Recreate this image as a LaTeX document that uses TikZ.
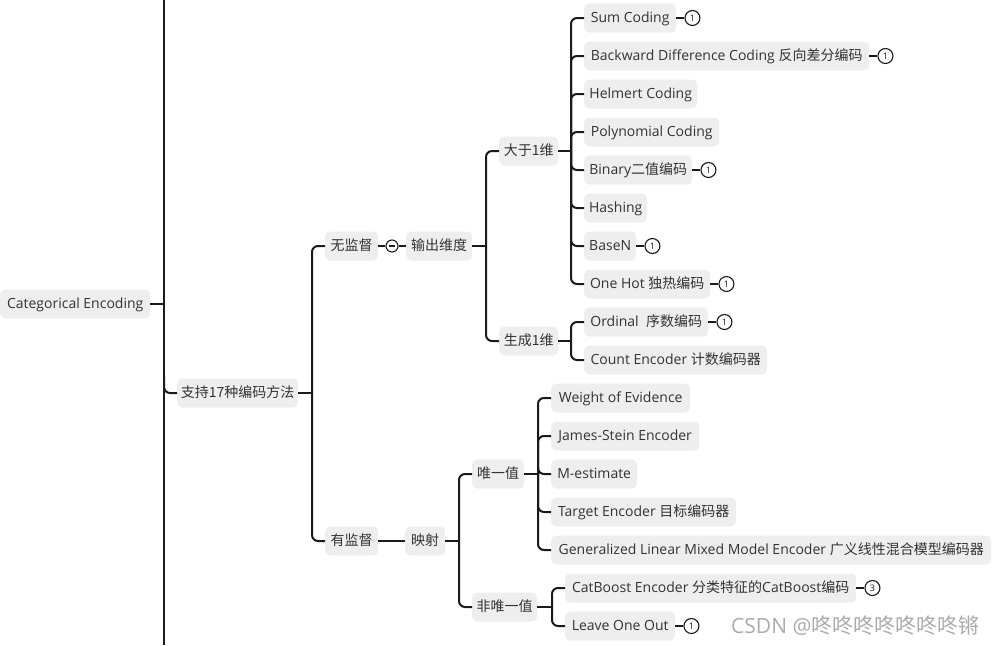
\documentclass[tikz,border=0pt]{standalone}
\usepackage{fontspec}
\setmainfont{Open Sans}
\newfontfamily\cjkfont{Noto Sans CJK SC}
\newcommand\zh[1]{{\cjkfont #1}}
\usetikzlibrary{calc}
\definecolor{boxgray}{HTML}{EEEEEE}
\definecolor{textc}{HTML}{333333}
\definecolor{linec}{HTML}{1A1A1A}
\definecolor{wmark}{HTML}{ABABAB}
\newcommand\nd[5]{\node[box, minimum width=#3-#2] (#1) at (#2,#4) {#5};}
\begin{document}
\begin{tikzpicture}[x=1pt,y=-1pt,
  box/.style={fill=boxgray, rounded corners=5pt, minimum height=29pt, inner xsep=0pt, inner ysep=0pt, anchor=west, text=textc, font=\fontsize{14}{16}\selectfont, text height=11.5pt, text depth=2pt},
  conn/.style={line width=2pt, draw=linec, rounded corners=6pt},
  badge/.style={circle, draw=linec, line width=1.1pt, minimum size=15pt, inner sep=0pt, fill=white, font=\fontsize{9}{9}\selectfont, text=linec},
  collapse/.style={circle, draw=linec, line width=1.1pt, minimum size=12pt, inner sep=0pt, fill=white},
]
\useasboundingbox (0,0) rectangle (998,645);

% main vertical line
\coordinate (vtop) at (164,0);
\coordinate (vbot) at (164,645);
\draw[line width=2pt, linec] (vtop) -- (vbot);

% nodes
\nd{root}{0}{150}{304}{Categorical Encoding}
\nd{zc}{177}{298}{393}{\zh{支持17种编码方法}}
\nd{wjd}{325}{378}{246}{\zh{无监督}}
\nd{ccwd}{406}{472}{246}{\zh{输出维度}}
\nd{dy1}{499}{558}{151}{\zh{大于1维}}
\nd{sc1}{499}{558}{341}{\zh{生成1维}}
\nd{sum}{584}{676}{18}{Sum Coding}
\nd{bwd}{584}{869}{56}{Backward Difference Coding \zh{反向差分编码}}
\nd{helm}{584}{697}{94}{Helmert Coding}
\nd{poly}{584}{719}{132}{Polynomial Coding}
\nd{bin}{584}{692}{170}{Binary\zh{二值编码}}
\nd{hash}{584}{647}{208}{Hashing}
\nd{basen}{584}{636}{246}{BaseN}
\nd{onehot}{584}{710}{284}{One Hot \zh{独热编码}}
\nd{ord}{584}{708}{322}{Ordinal\ \ \zh{序数编码}}
\nd{cnt}{584}{767}{360}{Count Encoder \zh{计数编码器}}
\nd{yjd}{325}{378}{541}{\zh{有监督}}
\nd{ys}{405}{445}{541}{\zh{映射}}
\nd{wyz}{472}{524}{474}{\zh{唯一值}}
\nd{fwyz}{472}{537}{607}{\zh{非唯一值}}
\nd{woe}{551}{690}{398}{Weight of Evidence}
\nd{js}{551}{699}{436}{James-Stein Encoder}
\nd{me}{551}{637}{474}{M-estimate}
\nd{te}{551}{736}{512}{Target Encoder \zh{目标编码器}}
\nd{glmm}{551}{991}{550}{Generalized Linear Mixed Model Encoder \zh{广义线性混合模型编码器}}
\nd{cb}{565}{856}{588}{CatBoost Encoder \zh{分类特征的}CatBoost\zh{编码}}
\nd{loo}{565}{675}{626}{Leave One Out}

% root connectors
\draw[conn] (root.east) -- (root.east -| vtop);
\coordinate (vz) at (164,375);
\draw[conn] (vz) |- (zc.west);

% trunks
\coordinate (zc-t) at (312,393);
\draw[conn] (zc.east) -- (zc-t);
\draw[conn] (zc-t) |- (wjd.west);
\draw[conn] (zc-t) |- (yjd.west);

\node[collapse] (col) at (392,246) {};
\draw[line width=1.1pt, linec] ($(col.center)+(-3.2,0)$) -- ($(col.center)+(3.2,0)$);
\draw[conn] (wjd.east) -- (col.west);
\draw[conn] (col.east) -- (ccwd.west);

\coordinate (ccwd-t) at (486,246);
\draw[conn] (ccwd.east) -- (ccwd-t);
\draw[conn] (ccwd-t) |- (dy1.west);
\draw[conn] (ccwd-t) |- (sc1.west);

\coordinate (dy1-t) at (571,151);
\draw[conn] (dy1.east) -- (dy1-t);
\foreach \c in {sum,bwd,helm,poly,bin,hash,basen,onehot}
  \draw[conn] (dy1-t) |- (\c.west);

\coordinate (sc1-t) at (571,341);
\draw[conn] (sc1.east) -- (sc1-t);
\foreach \c in {ord,cnt}
  \draw[conn] (sc1-t) |- (\c.west);

\draw[conn] (yjd.east) -- (ys.west);
\coordinate (ys-t) at (459,541);
\draw[conn] (ys.east) -- (ys-t);
\draw[conn] (ys-t) |- (wyz.west);
\draw[conn] (ys-t) |- (fwyz.west);

\coordinate (wyz-t) at (538,474);
\draw[conn] (wyz.east) -- (wyz-t);
\foreach \c in {woe,js,me,te,glmm}
  \draw[conn] (wyz-t) |- (\c.west);

\coordinate (fwyz-t) at (552,607);
\draw[conn] (fwyz.east) -- (fwyz-t);
\foreach \c in {cb,loo}
  \draw[conn] (fwyz-t) |- (\c.west);

% badges
\foreach \c/\n in {sum/1,bwd/1,bin/1,basen/1,onehot/1,ord/1,cb/3,loo/1}{
  \node[badge, anchor=west] (b-\c) at ($(\c.east)+(8,0)$) {\n};
  \draw[line width=2pt, linec] (\c.east) -- (b-\c.west);
}

% watermark
\node[anchor=west, inner sep=0pt, text=wmark, font=\fontsize{21}{23}\selectfont] (wm) at (731,626) {CSDN @\zh{咚咚咚咚咚咚咚锵}};
\end{tikzpicture}
\end{document}
